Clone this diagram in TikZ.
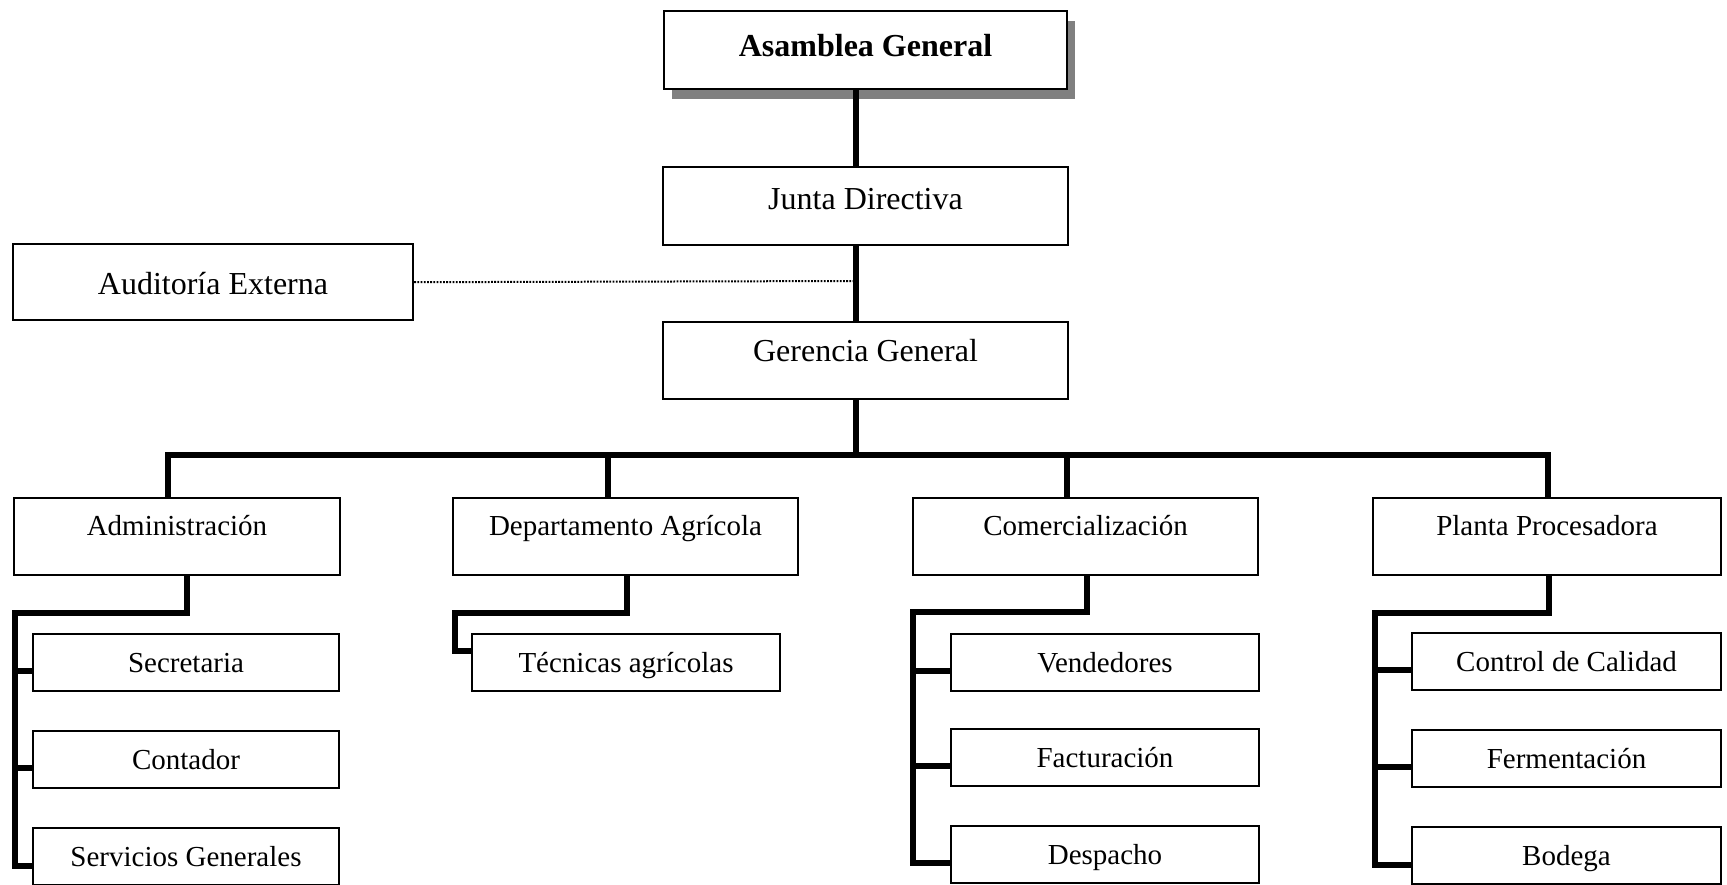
\documentclass[tikz,border=0pt]{standalone}
\usepackage{fontspec}
\setmainfont{Liberation Serif}
\usetikzlibrary{shadows}

\begin{document}
\begin{tikzpicture}[x=0.5pt, y=-0.5pt,
  box/.style={draw, line width=1.2pt, fill=white, inner sep=0pt, anchor=north},
  topbox/.style={box, font=\fontsize{16}{19}\selectfont},
  deptbox/.style={box, font=\fontsize{14.5}{17}\selectfont,
    text height=18.5pt, text depth=20pt},
  unitbox/.style={box, font=\fontsize{14.5}{17}\selectfont,
    text height=19pt, text depth=9.5pt},
  heavy/.style={line width=3.3pt},
  branch/.style={line width=2.8pt},
  dotline/.style={line width=1pt, dash pattern=on 0.9pt off 0.7pt},
]
\useasboundingbox (0,0) rectangle (1727,884);

% --- upper levels ---
\node[topbox, minimum width=201.5pt, text height=22.5pt, text depth=16.5pt,
      font=\fontsize{16}{19}\selectfont\bfseries,
      drop shadow={shadow xshift=4pt, shadow yshift=-5pt, fill=black!50, opacity=1}]
      (asm) at (865.5,10) {Asamblea General};
\node[topbox, minimum width=202.5pt, text height=21pt, text depth=18pt]
      (junta) at (865.5,166) {Junta Directiva};
\node[topbox, minimum width=200pt, text height=25pt, text depth=13pt]
      (aud) at (213,243) {Auditoría Externa};
\node[topbox, minimum width=202.5pt, text height=19.5pt, text depth=19pt]
      (ger) at (865.5,321) {Gerencia General};

% --- departments ---
\node[deptbox, minimum width=163pt]   (adm) at (177,497)    {Administración};
\node[deptbox, minimum width=172.5pt] (dep) at (625.5,497)  {Departamento Agrícola};
\node[deptbox, minimum width=172.5pt] (com) at (1085.5,497) {Comercialización};
\node[deptbox, minimum width=174pt]   (pla) at (1547,497)   {Planta Procesadora};

% --- units ---
\node[unitbox, minimum width=153pt]   (sec) at (186,633)  {Secretaria};
\node[unitbox, minimum width=153pt]   (cnt) at (186,730)  {Contador};
\node[unitbox, minimum width=153pt]   (srv) at (186,827)  {Servicios Generales};

\node[unitbox, minimum width=154pt]   (tec) at (626,633)  {Técnicas agrícolas};

\node[unitbox, minimum width=154pt]   (ven) at (1105,633) {Vendedores};
\node[unitbox, minimum width=154pt]   (fac) at (1105,728) {Facturación};
\node[unitbox, minimum width=154pt]   (des) at (1105,825) {Despacho};

\node[unitbox, minimum width=154.5pt] (cal) at (1566.5,632) {Control de Calidad};
\node[unitbox, minimum width=154.5pt] (fer) at (1566.5,729) {Fermentación};
\node[unitbox, minimum width=154.5pt] (bod) at (1566.5,826) {Bodega};

% --- main trunk ---
\coordinate (sp)   at (856,0);
\coordinate (tap)  at (856,281);
\coordinate (busL) at (168,455);
\coordinate (busM) at (856,455);
\coordinate (busR) at (1548,455);
\coordinate (depT) at (608,455);
\coordinate (comT) at (1067,455);

\draw[heavy] (asm.south -| sp) -- (junta.north -| sp);
\draw[heavy] (junta.south -| sp) -- (ger.north -| sp);
\draw[dotline] (aud.east) -- (tap);
\draw[heavy] (ger.south -| sp) -- (busM);
\draw[heavy] (adm.north -| busL) -- (busL) -- (busR) -- (pla.north -| busR);
\draw[heavy] (depT) -- (dep.north -| depT);
\draw[heavy] (comT) -- (com.north -| comT);

% --- branch entry points on the units ---
\coordinate (secIn) at ([yshift=-4pt]sec.west);
\coordinate (cntIn) at ([yshift=-4pt]cnt.west);
\coordinate (srvIn) at ([yshift=-4.5pt]srv.west);
\coordinate (tecIn) at ([yshift=5.75pt]tec.west);
\coordinate (venIn) at ([yshift=-4pt]ven.west);
\coordinate (facIn) at ([yshift=-4pt]fac.west);
\coordinate (desIn) at ([yshift=-4pt]des.west);
\coordinate (calIn) at ([yshift=-4pt]cal.west);
\coordinate (ferIn) at ([yshift=-4pt]fer.west);
\coordinate (bodIn) at ([yshift=-4.5pt]bod.west);

% --- Administración ---
\coordinate (admD) at (187,613);
\coordinate (admE) at (15,613);
\draw[branch] (adm.south -| admD) -- (admD) -- (admE) |- (srvIn);
\draw[branch] (admE |- secIn) -- (secIn);
\draw[branch] (admE |- cntIn) -- (cntIn);

% --- Departamento Agrícola ---
\coordinate (depD) at (627,613);
\coordinate (depE) at (455,613);
\draw[branch] (dep.south -| depD) -- (depD) -- (depE) |- (tecIn);

% --- Comercialización ---
\coordinate (comD) at (1087,612);
\coordinate (comE) at (913,612);
\draw[branch] (com.south -| comD) -- (comD) -- (comE) |- (desIn);
\draw[branch] (comE |- venIn) -- (venIn);
\draw[branch] (comE |- facIn) -- (facIn);

% --- Planta Procesadora ---
\coordinate (plaD) at (1549,613);
\coordinate (plaE) at (1375,613);
\draw[branch] (pla.south -| plaD) -- (plaD) -- (plaE) |- (bodIn);
\draw[branch] (plaE |- calIn) -- (calIn);
\draw[branch] (plaE |- ferIn) -- (ferIn);
\end{tikzpicture}
\end{document}
